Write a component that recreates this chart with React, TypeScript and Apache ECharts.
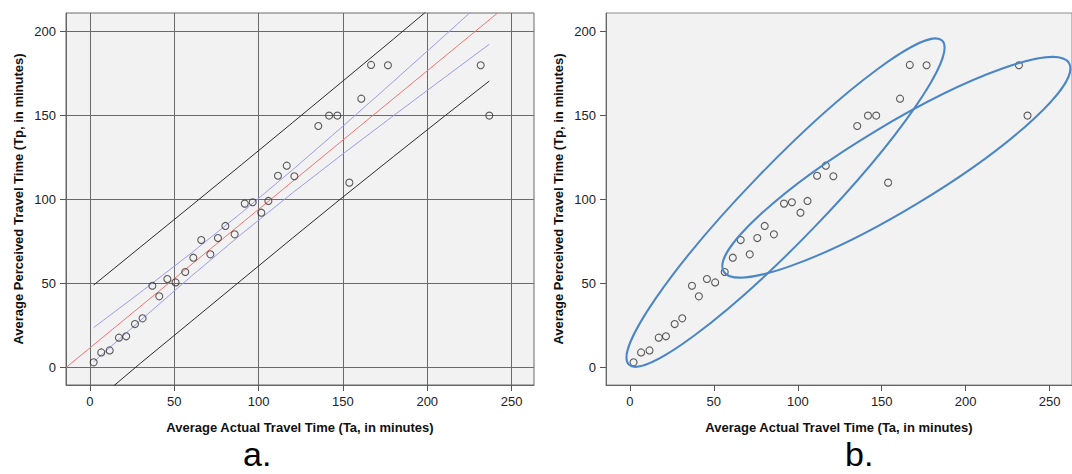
import React, { useEffect, useRef } from "react";
import * as echarts from "echarts";

// Observations (average actual vs perceived travel time, minutes)
const ta = [2.2, 6.7, 11.7, 17.2, 21.5, 26.7, 31.2, 37, 41.1, 45.9, 50.8, 56.5, 61.3, 66, 71.4, 75.9, 80.3, 85.8, 91.8, 96.5, 101.6, 105.8, 111.5, 116.7, 121.2, 135.4, 141.8, 146.7, 153.8, 160.9, 166.7, 176.7, 231.7, 236.8];
const tp = [3.1, 9.0, 10.2, 17.8, 18.6, 25.9, 29.3, 48.7, 42.4, 52.7, 50.7, 56.9, 65.4, 75.9, 67.4, 77.1, 84.3, 79.3, 97.6, 98.4, 92.2, 99.2, 114.2, 120.2, 113.9, 143.8, 150, 150, 110.1, 160.1, 180.2, 180, 180, 150];

// Fit line
const fitX = [-14.2, 241.6];
const fitY = [0, 211];

// Confidence / prediction bands
const bandX = [2.2, 30, 60, 90, 120, 150, 180, 210, 236.8];
const ciUpper = [23.8, 44.8, 68.1, 92.3, 117.6, 143.7, 170.4, 197.4, 221.7];
const ciLower = [3.4, 28.1, 54.3, 79.6, 103.9, 127.2, 150.0, 172.5, 192.5];
const piUpper = [49.1, 71.8, 96.3, 120.9, 145.7, 170.6, 195.6, 220.9, 244];
const piLower = [-21, 2.6, 27.4, 52.2, 77, 101.5, 125.6, 149.5, 170.6];

// Axis ticks
const xTicks = [0, 50, 100, 150, 200, 250];
const yTicks = [0, 50, 100, 150, 200];

// Ellipse annotations: [centerX, centerY, semiMajor, semiMinor (x-units), angle deg]
const ellipses = [
  [92.7, 98.2, 134.2, 22.5, 46.0],
  [158.7, 119.2, 120.1, 24.9, 31.1],
];

const FONT = "'Liberation Sans', Arial, Helvetica, sans-serif";

function pairs(xs: number[], ys: number[]) {
  return xs.map((x, i) => [x, ys[i]]);
}

function makeAxes(idx: number, grid: boolean) {
  const common = {
    type: "value" as const,
    gridIndex: idx,
    splitNumber: 5,
    axisLine: { show: true, onZero: false, lineStyle: { color: "#666", width: 1 } },
    nameLocation: "middle" as const,
    nameTextStyle: { fontFamily: FONT, fontWeight: "bold", fontSize: 13, color: "#111" },
  };
  const x = {
    ...common,
    min: -14.2,
    max: 263.3,
    name: "Average Actual Travel Time (Ta, in minutes)",
    nameGap: 36,
    axisTick: { show: true, length: 6, customValues: xTicks, lineStyle: { color: "#555" } },
    axisLabel: { customValues: xTicks, color: "#222", fontSize: 13, fontFamily: FONT, margin: 10 },
    splitLine: { show: grid, lineStyle: { color: "#6a6a6a", width: 1 } },
  };
  const y = {
    ...common,
    min: -10.4,
    max: 211.1,
    name: "Average Perceived Travel Time (Tp, in minutes)",
    nameGap: 41,
    axisTick: { show: true, length: 6, customValues: yTicks, lineStyle: { color: "#555" } },
    axisLabel: { customValues: yTicks, color: "#222", fontSize: 13, fontFamily: FONT, margin: 10 },
    splitLine: { show: grid, lineStyle: { color: "#6a6a6a", width: 1 } },
  };
  return { x, y };
}

export default function App() {
  const ref = useRef<HTMLDivElement>(null);
  useEffect(() => {
    if (!ref.current) return;
    const chart = echarts.init(ref.current, null, { renderer: "svg" });
    const a0 = makeAxes(0, true);
    const a1 = makeAxes(1, false);
    const pts = pairs(ta, tp);
    const scatterStyle = { color: "rgba(0,0,0,0)", borderColor: "#333", borderWidth: 1.1 };
    const lineBase = (data: number[][], color: string) => ({
      type: "line" as const,
      xAxisIndex: 0,
      yAxisIndex: 0,
      data,
      showSymbol: false,
      symbol: "none",
      clip: true,
      silent: true,
      lineStyle: { color, width: 1 },
      z: 2,
    });
    chart.setOption({
      animation: false,
      grid: [
        { left: 66, top: 13, width: 468, height: 372, show: true, backgroundColor: "#f2f2f2", borderColor: "#6a6a6a", borderWidth: 1 },
        { left: 606, top: 13, width: 468, height: 372, show: true, backgroundColor: "#f2f2f2", borderColor: "#8a8a8a", borderWidth: 1 },
      ],
      xAxis: [a0.x, a1.x],
      yAxis: [a0.y, a1.y],
      series: [
        lineBase(pairs(bandX, piUpper), "#2a2a2a"),
        lineBase(pairs(bandX, piLower), "#2a2a2a"),
        lineBase(pairs(bandX, ciUpper), "#9a9af5"),
        lineBase(pairs(bandX, ciLower), "#9a9af5"),
        lineBase(pairs(fitX, fitY), "#f27373"),
        {
          type: "scatter",
          xAxisIndex: 0,
          yAxisIndex: 0,
          data: pts,
          symbol: "circle",
          symbolSize: 7,
          itemStyle: scatterStyle,
          z: 3,
        },
        {
          type: "scatter",
          xAxisIndex: 1,
          yAxisIndex: 1,
          data: pts,
          symbol: "circle",
          symbolSize: 7,
          itemStyle: scatterStyle,
          z: 3,
        },
        {
          type: "custom",
          xAxisIndex: 1,
          yAxisIndex: 1,
          data: ellipses,
          encode: { x: 0, y: 1 },
          clip: false,
          silent: true,
          z: 4,
          renderItem: (params: any, api: any) => {
            const c = api.coord([api.value(0), api.value(1)]);
            const unit = api.size([1, 1]);
            const rx = api.value(2) * unit[0];
            const ry = api.value(3) * unit[0];
            return {
              type: "ellipse",
              x: c[0],
              y: c[1],
              rotation: (api.value(4) * Math.PI) / 180,
              shape: { cx: 0, cy: 0, rx, ry },
              style: { fill: "none", stroke: "#4a86c6", lineWidth: 2 },
            };
          },
        },
      ],
      graphic: [
        { type: "text", left: 243, top: 437, style: { text: "a.", fontSize: 34, lineHeight: 34, fontFamily: FONT, fill: "#000" } },
        { type: "text", left: 845, top: 437, style: { text: "b.", fontSize: 34, lineHeight: 34, fontFamily: FONT, fill: "#000" } },
      ],
    });
    return () => chart.dispose();
  }, []);
  return (
    <div
      ref={ref}
      style={{ position: "absolute", left: 0, top: 0, width: 1072, height: 474, background: "#fff" }}
    />
  );
}
